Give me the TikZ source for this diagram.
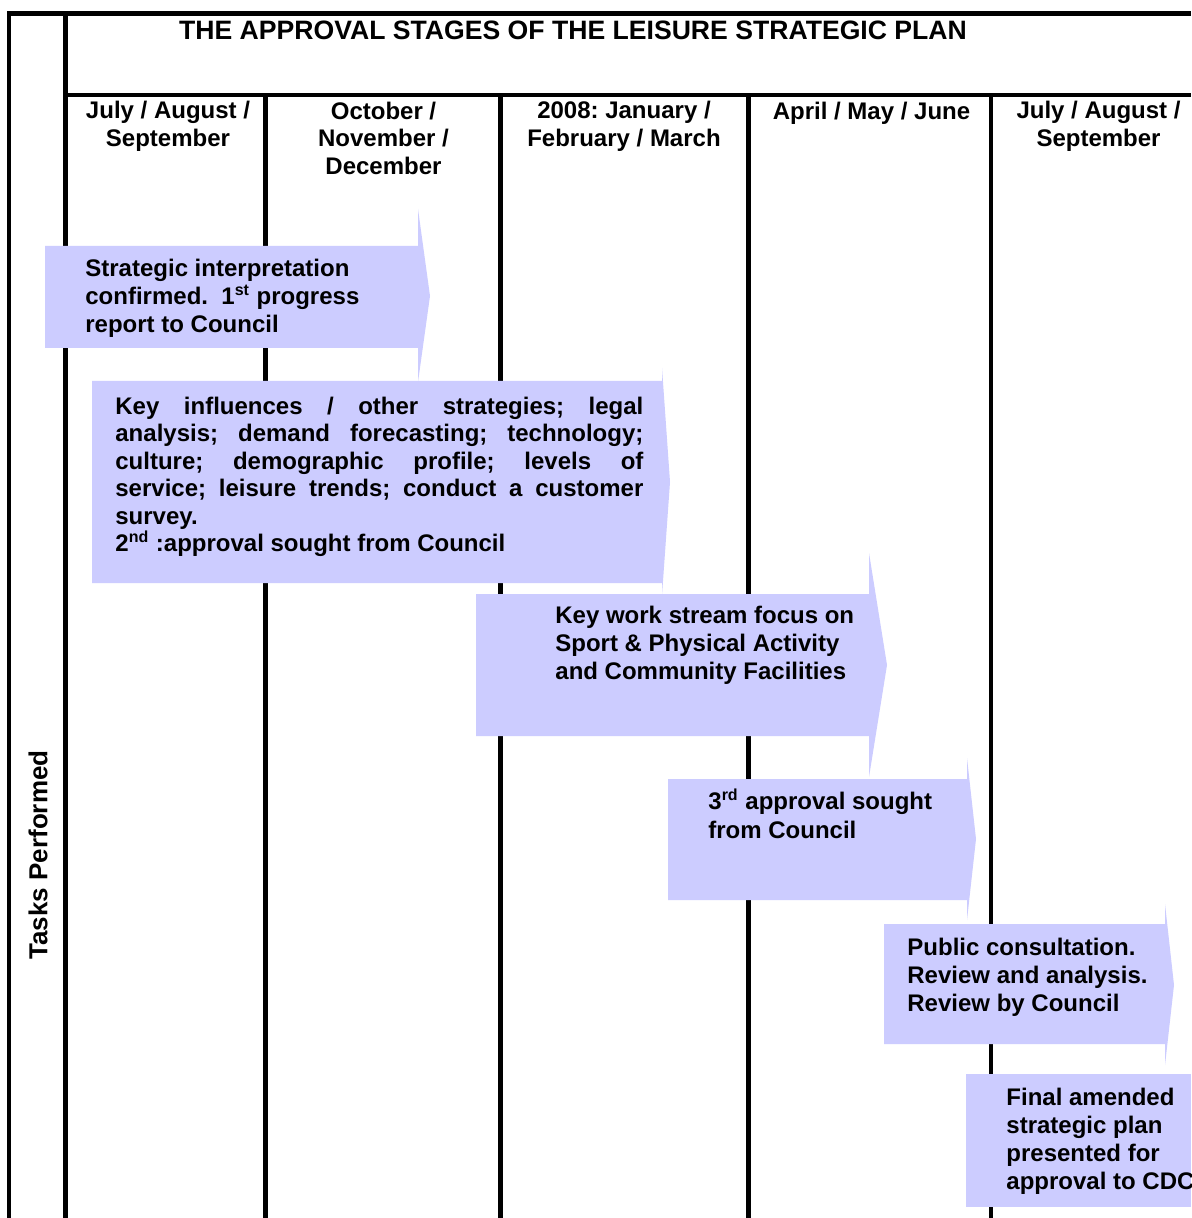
\documentclass[tikz,border=0pt]{standalone}
\usepackage{fontspec}
\setmainfont{Liberation Sans}
\usepackage{xcolor}
\definecolor{stageblue}{RGB}{204,204,255}
\frenchspacing
\tikzset{
    gridline/.style={draw=black, line width=2.2pt},
    stagearrow/.style={fill=stageblue, draw=none},
    stagetext/.style={anchor=base west, inner sep=0pt, align=left, font=\bfseries\fontsize{12}{14}\selectfont},
    monthtext/.style={anchor=base, inner sep=0pt, align=center, font=\bfseries\fontsize{12}{13.75}\selectfont}
}

\begin{document}
\begin{tikzpicture}[x=0.5pt, y=-0.5pt]
    \useasboundingbox (0,0) rectangle (1191,1218);
    \clip (0,0) rectangle (1191,1218);
    \fill[white] (0,0) rectangle (1191,1218);
    % table frame
    \draw[gridline] (9,1218) -- (9,13.5) -- (1191,13.5);
    \draw[gridline] (65.5,13.5) -- (65.5,1218);
    \draw[gridline] (65.5,95) -- (1191,95);
    \foreach \x in {265.5, 500.5, 748.5, 991}
        \draw[gridline] (\x,95) -- (\x,1218);
    % stage arrows
    \fill[stagearrow] (45,246) -- (418,246) -- (418,209) -- (430,296) -- (418,382) -- (418,348) -- (45,348) -- cycle;
    \fill[stagearrow] (92,381) -- (662,381) -- (662,368) -- (670,482) -- (662,595) -- (662,583) -- (92,583) -- cycle;
    \fill[stagearrow] (476,594) -- (869,594) -- (869,553) -- (887,665) -- (869,777) -- (869,736) -- (476,736) -- cycle;
    \fill[stagearrow] (668,779) -- (967,779) -- (967,758) -- (976,839) -- (967,920) -- (967,900) -- (668,900) -- cycle;
    \fill[stagearrow] (884,924) -- (1165,924) -- (1165,904) -- (1174,985) -- (1165,1065) -- (1165,1044) -- (884,1044) -- cycle;
    \fill[stagearrow] (966,1074) rectangle (1191,1207);
    % headings (base = last line)
    \node[inner sep=0pt, font=\bfseries\fontsize{13.3}{16}\selectfont] (title) at (573,30) {THE APPROVAL STAGES OF THE LEISURE STRATEGIC PLAN};
    \node[rotate=90, inner sep=0pt, font=\bfseries\fontsize{13}{16}\selectfont] (tasks) at (38,855) {Tasks Performed};
    \node[monthtext] (m1) at (168,146.5) {July / August /\\September};
    \node[monthtext] (m2) at (383.5,174.5) {October /\\November /\\December};
    \node[monthtext] (m3) at (624,146.5) {2008: January /\\February / March};
    \node[monthtext] (m4) at (871.5,119.5) {April / May / June};
    \node[monthtext] (m5) at (1098.5,146.5) {July / August /\\September};
    % stage texts
    \node[stagetext] (s1) at (85,332.5) {Strategic interpretation\\confirmed.\ \ 1\textsuperscript{st} progress\\report to Council};
    \node[stagetext, font=\bfseries\fontsize{12}{13.7}\selectfont] (s2) at (115,551.5)
        {\makebox[264pt][s]{Key influences / other strategies; legal}\\
         \makebox[264pt][s]{analysis; demand forecasting; technology;}\\
         \makebox[264pt][s]{culture; demographic profile; levels of}\\
         \makebox[264pt][s]{service; leisure trends; conduct a customer}\\
         survey.\\
         2\textsuperscript{nd} :approval sought from Council};
    \node[stagetext] (s3) at (555,679.5) {Key work stream focus on\\Sport \& Physical Activity\\and Community Facilities};
    \node[stagetext, font=\bfseries\fontsize{12}{14.5}\selectfont] (s4) at (708,838.5) {3\textsuperscript{rd} approval sought\\from Council};
    \node[stagetext] (s5) at (907,1011.5) {Public consultation.\\Review and analysis.\\Review by Council};
    \node[stagetext] (s6) at (1006,1189.5) {Final amended\\strategic plan\\presented for\\approval to CDC};
\end{tikzpicture}
\end{document}
